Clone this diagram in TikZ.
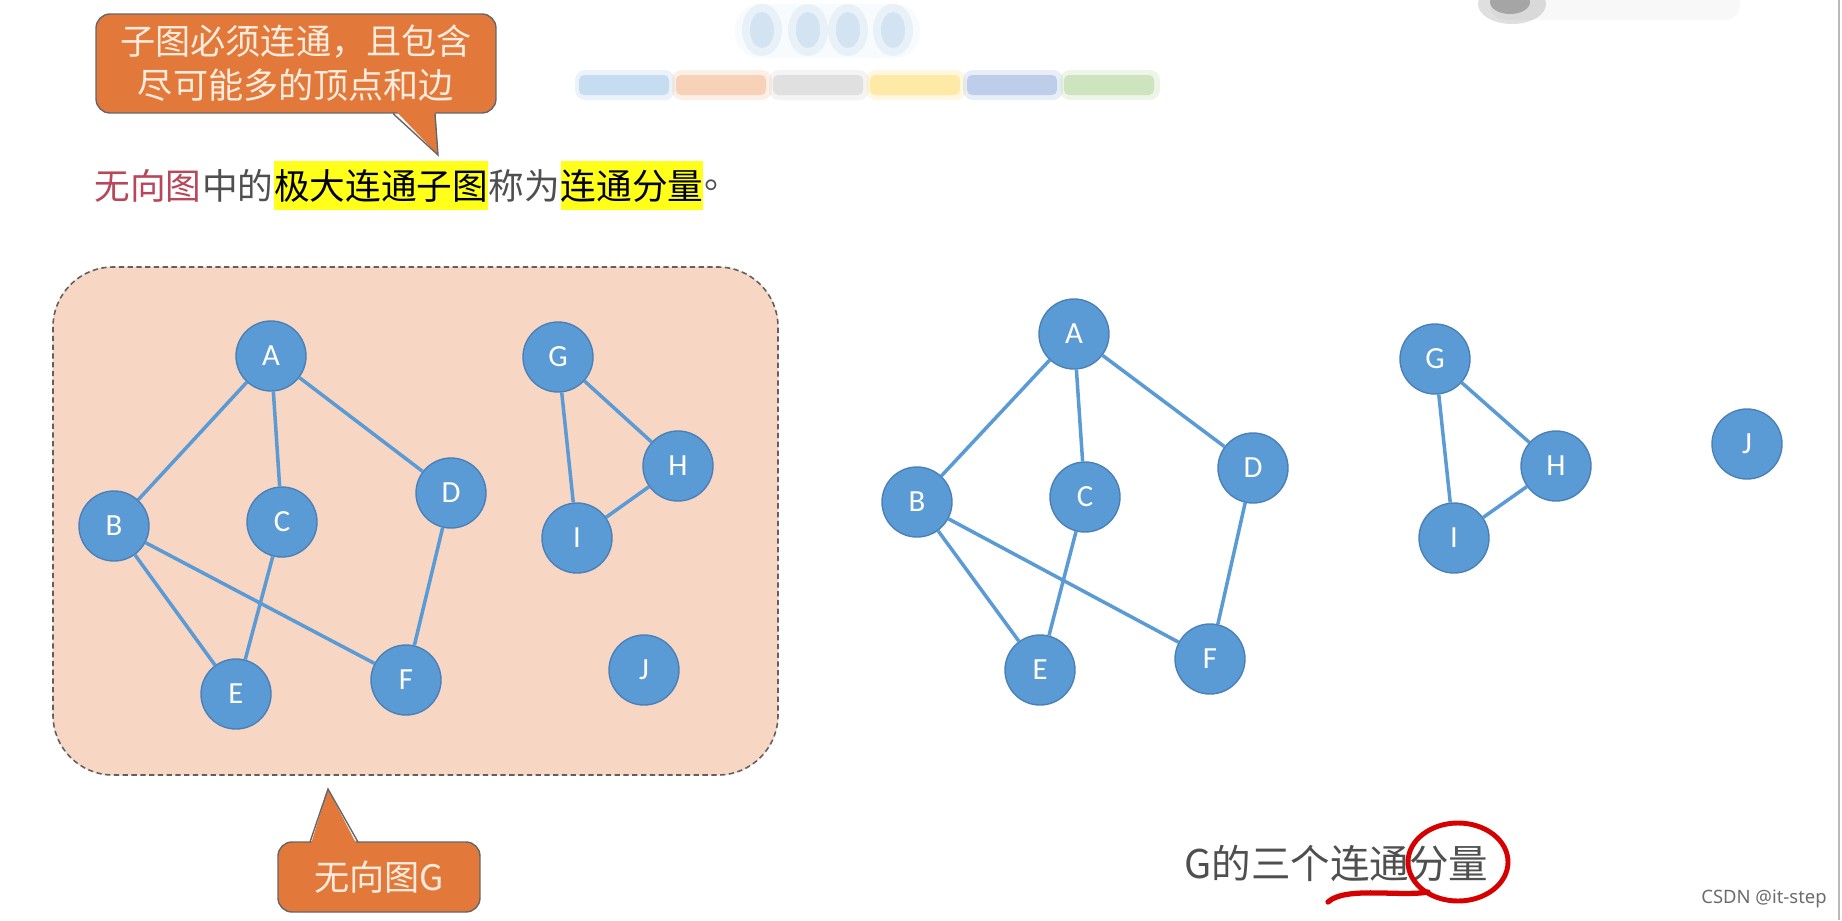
\documentclass[tikz,border=0pt]{standalone}
\usepackage{fontspec}
\setmainfont{Carlito}
\newfontfamily\cjk{Noto Sans CJK SC}
\newfontfamily\wmark{Noto Sans}
\usetikzlibrary{positioning,calc}

\definecolor{vblue}{HTML}{5B9BD5}
\definecolor{vrim}{HTML}{4A80B8}
\definecolor{peach}{HTML}{F8D6C4}
\definecolor{callorange}{HTML}{E2793A}
\definecolor{calltext}{HTML}{FDEBDD}
\definecolor{hlyellow}{HTML}{FFFF1A}
\definecolor{redword}{HTML}{B8475A}
\definecolor{grayword}{HTML}{4F4F4F}
\definecolor{inkred}{HTML}{D60000}
\definecolor{haze}{HTML}{A9C8E4}

\tikzset{
  vertex/.style={circle,fill=vblue,draw=vrim,line width=0.8pt,minimum size=1.4cm,
    inner sep=0pt,text=white,font=\fontsize{17.5}{17.5}\selectfont},
  edge/.style={draw=vblue,line width=2pt},
  callbox/.style={rectangle,rounded corners=0.28cm,fill=callorange,draw=gray!80!black,
    line width=0.8pt,text=calltext,align=center,font=\cjk\fontsize{20}{25}\selectfont},
  sent/.style={inner xsep=0pt,inner ysep=0pt,minimum height=0.98cm,
    font=\cjk\fontsize{20.3}{20.3}\selectfont},
  hl/.style={sent,fill=hlyellow,text=black}
}

\begin{document}
\begin{tikzpicture}[x=0.02cm,y=-0.02cm]
\useasboundingbox (0,0) rectangle (1842,920);
\fill[white] (0,0) rectangle (1842,920);

% blurred slide header
\fill[haze,opacity=0.07,rounded corners=0.5cm] (735,4) rectangle (920,58);
\foreach \x in {762,808,848,893}{
  \fill[haze,opacity=0.2] (\x,30) ellipse (20 and 26);
  \fill[haze,opacity=0.3] (\x,30) ellipse (12 and 18);
}
\foreach \c [count=\i from 0] in {BDD7EE,F8CBAD,DBDBDB,FFE699,B4C7E7,C5E0B4}{
  \definecolor{strip}{HTML}{\c}
  \fill[strip,opacity=0.3,rounded corners=0.2cm] ({575+\i*97},70) rectangle ({575+\i*97+100},100);
  \fill[strip,opacity=0.8,rounded corners=0.1cm] ({579+\i*97},75) rectangle ({579+\i*97+90},95);
}
\fill[gray!40,opacity=0.12,rounded corners=0.3cm] (1490,-10) rectangle (1740,20);
\fill[gray,opacity=0.25] (1512,4) ellipse (34 and 20);
\fill[gray!80!black,opacity=0.45] (1510,2) ellipse (20 and 12);
\draw[gray!55,line width=1pt] (1839,0) -- (1839,920);

% callout above the sentence
\node[callbox,minimum width=8cm,minimum height=1.98cm] (topnote) at (296,63.5)
  {子图必须连通，且包含\\尽可能多的顶点和边};
\coordinate (toptip) at (438,155);
\fill[callorange] (393,108) -- (toptip) -- (435,108) -- cycle;
\draw[gray!80!black,line width=0.8pt] (393,113.5) -- (toptip) -- (435,113.5);

% the sentence
\node[sent,anchor=west,text=redword] (s1) at (94,185.5) {无向图};
\node[sent,right=0pt of s1,text=grayword] (s2) {中的};
\node[hl,right=0pt of s2] (s3) {极大连通子图};
\node[sent,right=0pt of s3,text=grayword] (s4) {称为};
\node[hl,right=0pt of s4] (s5) {连通分量};
\node[sent,right=0pt of s5,text=grayword] (s6) {。};

% graph G
\draw[peach,fill=peach,rounded corners=1.2cm] (53,267) rectangle (778,775);
\draw[gray!75!black,densely dashed,line width=0.9pt,rounded corners=1.2cm] (53,267) rectangle (778,775);

\foreach \n/\x/\y in {A/271/356,B/114/526,C/282/522,D/451/493,E/236/694,
                      F/406/680,G/558/357,H/678/466,I/577/538,J/644/670}
  \node[vertex] (l\n) at (\x,\y) {\n};

% its three connected components
\foreach \n/\x/\y in {A/1074/334,B/917/502,C/1085/497,D/1253/468,E/1040/670,
                      F/1210/659,G/1435/359,H/1556/466,I/1454/538,J/1747/444}
  \node[vertex] (r\n) at (\x,\y) {\n};

\foreach \a/\b in {A/B,A/C,A/D,B/E,B/F,C/E,D/F,G/H,G/I,H/I}{
  \draw[edge] (l\a) -- (l\b);
  \draw[edge] (r\a) -- (r\b);
}

% callout below the box
\node[callbox,minimum width=4.04cm,minimum height=1.4cm] (gnote) at (379,877) {无向图G};
\coordinate (gtip) at (328,789);
\fill[callorange] (310,847) -- (gtip) -- (358,847) -- cycle;
\draw[gray!80!black,line width=0.8pt] (310,842) -- (gtip) -- (358,842);

% caption with hand marks
\node[anchor=west,inner sep=0pt,text=grayword,font=\cjk\fontsize{22.5}{22.5}\selectfont]
  (caption) at (1184,863) {G的三个连通分量};
\draw[inkred,line width=2.8pt] (1458,862) ellipse (50 and 39);
\draw[inkred,line width=3pt,line cap=round] (1328,902) .. controls (1345,886) and (1400,897) .. (1428,892);

\node[anchor=east,inner sep=0pt,text=gray!85!black,font=\wmark\fontsize{10.5}{10.5}\selectfont]
  (mark) at (1827,899) {CSDN @it-step};
\end{tikzpicture}
\end{document}
